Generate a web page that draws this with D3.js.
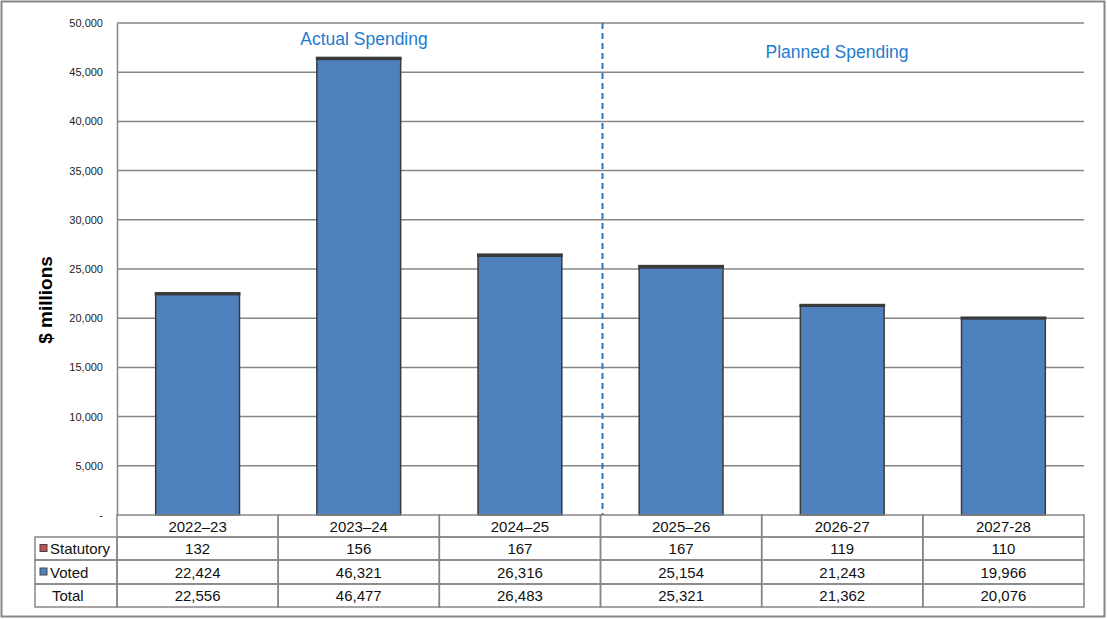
<!DOCTYPE html>
<html><head><meta charset="utf-8">
<script src="https://cdn.jsdelivr.net/npm/d3@7"></script>
<style>body{margin:0;background:#fff}svg{display:block}text{font-family:Arial,"Liberation Sans",sans-serif}</style>
</head><body>
<svg id="c" width="1107" height="619"></svg>
<script>
const categories = ["2022–23","2023–24","2024–25","2025–26","2026-27","2027-28"];
const statutory = [132,156,167,167,119,110];
const voted = [22424,46321,26316,25154,21243,19966];
const total = [22556,46477,26483,25321,21362,20076];
const yTicks = [0,5000,10000,15000,20000,25000,30000,35000,40000,45000,50000];
const sectionLabels = ["Actual Spending","Planned Spending"];

const svg = d3.select("#c");
const L=117, R=1084, T=23, B=515;
const x = d3.scaleBand().domain(categories).range([L,R]).paddingInner(0.48).paddingOuter(0.24);
const xc = d3.scaleBand().domain(categories).range([L,R]);
const y = d3.scaleLinear().domain([0,50000]).range([B,T]);
const grey="#868686";

svg.append("rect").attr("x",1.5).attr("y",1.5).attr("width",1103).attr("height",615).attr("fill","none").attr("stroke",grey).attr("stroke-width",2);

// gridlines
svg.append("g").selectAll("line").data(yTicks.filter(d=>d>0)).join("line")
 .attr("x1",L).attr("x2",R).attr("y1",d=>y(d)).attr("y2",d=>y(d)).attr("stroke",grey).attr("stroke-width",1.5);
// y axis
const yAxis = d3.axisLeft(y).tickValues(yTicks).tickSize(0).tickPadding(14)
  .tickFormat(d=>d===0?"-":d3.format(",")(d));
const ga = svg.append("g").attr("transform",`translate(${L},0)`).call(yAxis);
ga.select(".domain").attr("stroke",grey).attr("stroke-width",1.5);
ga.selectAll("text").attr("font-size",11).attr("fill","#222").attr("font-family","Arial");

svg.append("text").attr("transform","translate(52,300) rotate(-90)").attr("text-anchor","middle")
 .attr("font-size",19).attr("font-weight","bold").attr("fill","#000").text("$ millions");

// bars
const stack = categories.map((c,i)=>({c,v:voted[i],s:statutory[i]}));
svg.append("g").selectAll("rect").data(stack).join("rect")
 .attr("x",d=>x(d.c)).attr("width",x.bandwidth()).attr("y",d=>y(d.v)).attr("height",d=>B-y(d.v))
 .attr("fill","#4F81BD").attr("stroke","#3a3a3a").attr("stroke-width",1.5);
svg.append("g").selectAll("rect").data(stack).join("rect")
 .attr("x",d=>x(d.c)).attr("width",x.bandwidth()).attr("y",d=>y(d.v+d.s)).attr("height",d=>y(d.v)-y(d.v+d.s))
 .attr("fill","#C0504D").attr("stroke","#3a3a3a").attr("stroke-width",2);

// divider
const divX = xc(categories[3])+2;
svg.append("line").attr("x1",divX).attr("x2",divX).attr("y1",T).attr("y2",B)
 .attr("stroke","#2E75C6").attr("stroke-width",2).attr("stroke-dasharray","6,4");
svg.append("text").attr("x",364).attr("y",45).attr("text-anchor","middle").attr("font-size",17.5).attr("fill","#1F7BD0").text(sectionLabels[0]);
svg.append("text").attr("x",837).attr("y",58).attr("text-anchor","middle").attr("font-size",17.5).attr("fill","#1F7BD0").text(sectionLabels[1]);

// table
const rows=[{label:"Statutory",vals:statutory,sw:"#C0504D"},{label:"Voted",vals:voted,sw:"#4F81BD"},{label:"Total",vals:total,sw:null}];
const rowY=[515,537,560,584,607];
const TL=35;
const tg=svg.append("g");
categories.forEach((c,i)=>{
  tg.append("rect").attr("x",xc(c)).attr("y",rowY[0]).attr("width",xc.bandwidth()).attr("height",rowY[1]-rowY[0]).attr("fill","none").attr("stroke",grey).attr("stroke-width",1.5);
  tg.append("text").attr("x",xc(c)+xc.bandwidth()/2).attr("y",rowY[0]+17).attr("text-anchor","middle").attr("font-size",15).attr("fill","#111").text(c);
});
rows.forEach((r,ri)=>{
  const y0=rowY[ri+1], y1=rowY[ri+2];
  tg.append("rect").attr("x",TL).attr("y",y0).attr("width",L-TL).attr("height",y1-y0).attr("fill","none").attr("stroke",grey).attr("stroke-width",1.5);
  if(r.sw){
    tg.append("rect").attr("x",TL+5).attr("y",(y0+y1)/2-4).attr("width",7).attr("height",7).attr("fill",r.sw).attr("stroke","#444").attr("stroke-width",1);
    tg.append("text").attr("x",TL+15).attr("y",(y0+y1)/2+5.5).attr("font-size",15).attr("fill","#111").text(r.label);
  } else {
    tg.append("text").attr("x",TL+17).attr("y",(y0+y1)/2+5.5).attr("font-size",15).attr("fill","#111").text(r.label);
  }
  categories.forEach((c,i)=>{
    tg.append("rect").attr("x",xc(c)).attr("y",y0).attr("width",xc.bandwidth()).attr("height",y1-y0).attr("fill","none").attr("stroke",grey).attr("stroke-width",1.5);
    tg.append("text").attr("x",xc(c)+xc.bandwidth()/2).attr("y",(y0+y1)/2+5.5).attr("text-anchor","middle").attr("font-size",15).attr("fill","#111").text(d3.format(",")(r.vals[i]));
  });
});
</script>
</body></html>
